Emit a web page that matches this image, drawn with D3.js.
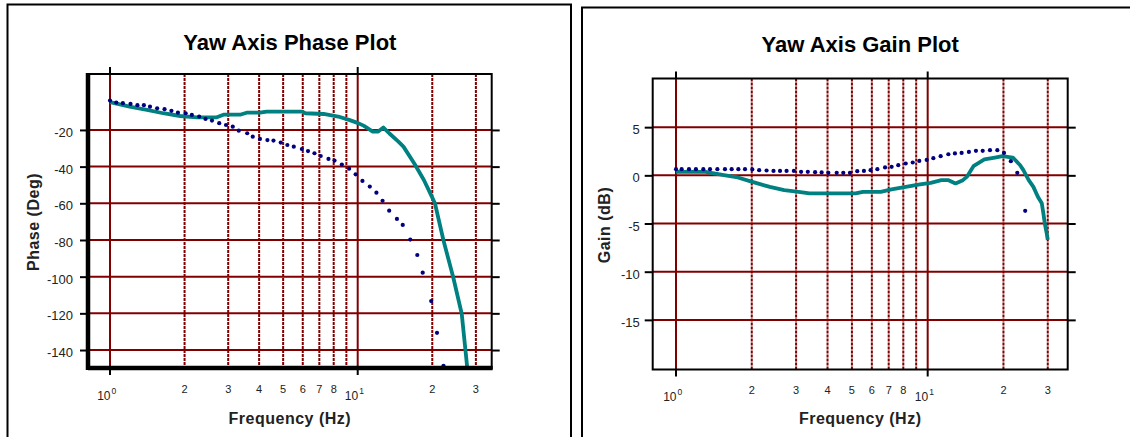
<!DOCTYPE html>
<html>
<head>
<meta charset="utf-8">
<script src="https://cdn.jsdelivr.net/npm/d3@7"></script>
<style>
  body { margin: 0; background: #fff; }
  svg { display: block; font-family: "Liberation Sans", Arial, sans-serif; }
</style>
</head>
<body>
<svg id="chart" width="1130" height="437"></svg>
<script>
// measured phase (dots) and model phase (line), Hz / deg
var phaseDotFreq = [1.0, 1.06, 1.127, 1.21, 1.29, 1.37, 1.45, 1.55, 1.66, 1.77, 1.88, 2.02, 2.14, 2.29, 2.43, 2.58, 2.76, 2.94, 3.13, 3.31,
  3.58, 3.77, 4.03, 4.32, 4.57, 4.89, 5.2, 5.52, 5.95, 6.3, 6.69, 7.09, 7.62, 8.06, 8.63, 9.23, 9.81, 10.45, 11.19, 11.9,
  12.6, 13.4, 14.4, 15.2, 16.3, 17.4, 18.3, 19.8, 20.9, 22.2];
var phaseDotDeg = [-4.0, -5.1, -5.4, -5.8, -6.5, -6.5, -7.3, -8.2, -8.7, -9.6, -10.6, -10.9, -11.8, -12.7, -14.0, -14.9, -16.3, -17.3, -18.2, -20.4,
  -21.8, -23.7, -24.9, -25.5, -25.8, -26.9, -28.2, -29.1, -30.4, -31.5, -32.7, -34.2, -35.8, -36.7, -38.9, -41.1, -44.2, -47.8, -50.9, -54.2,
  -58.6, -64.0, -68.5, -71.8, -79.8, -88.2, -97.8, -113.3, -130.6, -148.6];
var phaseLineFreq = [1.0, 1.2, 1.41, 1.64, 1.92, 2.24, 2.7, 2.87, 3.35, 3.56, 4.03, 4.29, 5.95, 6.15, 7.28, 8.34, 9.22, 10.05, 10.6, 11.5,
  12.1, 12.7, 13.4, 14.6, 15.3, 16.9, 18.5, 19.7, 20.5, 22.2, 24.3, 26.3, 27.7];
var phaseLineDeg = [-4.8, -7.3, -9.1, -10.9, -12.4, -13.1, -13.1, -11.7, -11.7, -10.6, -10.6, -10.0, -10.0, -10.9, -11.3, -12.7, -14.5, -16.3, -17.8, -20.9,
  -20.9, -18.7, -21.8, -26.4, -29.1, -38.2, -47.3, -55.0, -60.0, -80.3, -100.3, -120.2, -150.0];

// measured gain (dots) and model gain (line), Hz / dB
var gainDotFreq = [1.0, 1.053, 1.126, 1.2, 1.284, 1.365, 1.46, 1.565, 1.664, 1.769, 1.88, 2.01, 2.14, 2.29, 2.44, 2.59, 2.75, 2.94, 3.14, 3.34,
  3.57, 3.79, 4.03, 4.35, 4.62, 4.91, 5.25, 5.58, 5.93, 6.31, 6.77, 7.19, 7.64, 8.18, 8.72, 9.26, 9.91, 10.53, 11.26, 12.08,
  12.83, 13.64, 14.58, 15.55, 16.54, 17.68, 18.91, 20.1, 21.4, 22.7, 24.4];
var gainDotDb = [0.64, 0.64, 0.64, 0.64, 0.64, 0.64, 0.64, 0.64, 0.64, 0.64, 0.64, 0.61, 0.54, 0.5, 0.46, 0.46, 0.46, 0.46, 0.36, 0.36,
  0.33, 0.3, 0.26, 0.26, 0.26, 0.26, 0.43, 0.46, 0.54, 0.64, 0.82, 0.88, 1.05, 1.23, 1.33, 1.5, 1.6, 1.78, 1.99, 2.19,
  2.27, 2.33, 2.43, 2.54, 2.54, 2.61, 2.61, 2.33, 1.47, 0.26, -3.68];
var gainLineFreq = [1.0, 1.31, 1.55, 1.76, 2.01, 2.36, 2.69, 3.07, 3.39, 5.17, 5.53, 6.51, 7.18, 8.18, 9.32, 10.28, 11.34, 12.1, 12.9, 13.8,
  14.3, 15.2, 16.8, 18.5, 19.8, 21.8, 23.3, 24.0, 25.2, 26.3, 27.4, 28.4, 28.8, 29.2, 29.7, 30.0];
var gainLineDb = [0.36, 0.36, 0.02, -0.22, -0.68, -1.2, -1.54, -1.71, -1.88, -1.88, -1.71, -1.71, -1.46, -1.2, -0.95, -0.78, -0.5, -0.5, -0.84, -0.5,
  -0.16, 0.95, 1.65, 1.85, 1.99, 1.85, 1.05, 0.54, -0.5, -1.2, -2.23, -2.9, -3.9, -5.0, -6.0, -6.7];

var phaseTicks = [-20, -40, -60, -80, -100, -120, -140];
var gainTicks = [5, 0, -5, -10, -15];
var majorFreq = [1, 10];
var majorLabels = ["10", "10"];
var majorExp = ["0", "1"];
var minorFreq = [2, 3, 4, 5, 6, 7, 8, 9, 20, 30];
var minorLabels = ["2", "3", "4", "5", "6", "7", "8", "", "2", "3"];

var svg = d3.select("#chart");
var gridColor = "#800000";

// outer panel frames
svg.append("rect").attr("x", 7.5).attr("y", 4.5).attr("width", 563.5).attr("height", 460)
  .attr("fill", "none").attr("stroke", "#000").attr("stroke-width", 2);
svg.append("rect").attr("x", 582).attr("y", 7.5).attr("width", 600).attr("height", 460)
  .attr("fill", "none").attr("stroke", "#000").attr("stroke-width", 2);

function drawPlot(o) {
  var x = d3.scaleLog().domain(o.xDomain).range([o.left, o.right]);
  var y = d3.scaleLinear().domain(o.yDomain).range([o.bottom, o.top]);
  var g = svg.append("g");

  g.append("clipPath").attr("id", o.id + "-clip")
    .append("rect").attr("x", o.left).attr("y", o.top)
    .attr("width", o.right - o.left).attr("height", o.bottom - o.top);

  // minor frequency grid (dotted)
  g.selectAll(".minor").data(minorFreq).enter().append("line")
    .attr("x1", function (d) { return x(d); }).attr("x2", function (d) { return x(d); })
    .attr("y1", o.top).attr("y2", o.bottom)
    .attr("stroke", gridColor).attr("stroke-width", 2)
    .attr("stroke-dasharray", "3,1");

  // decade grid
  g.selectAll(".major").data(majorFreq).enter().append("line")
    .attr("x1", function (d) { return x(d); }).attr("x2", function (d) { return x(d); })
    .attr("y1", o.top).attr("y2", o.bottom)
    .attr("stroke", gridColor).attr("stroke-width", 2);

  // horizontal grid
  g.selectAll(".hgrid").data(o.yTicks).enter().append("line")
    .attr("x1", o.left).attr("x2", o.right)
    .attr("y1", function (d) { return y(d); }).attr("y2", function (d) { return y(d); })
    .attr("stroke", gridColor).attr("stroke-width", 2);

  var plot = g.append("g").attr("clip-path", "url(#" + o.id + "-clip)");

  var line = d3.line()
    .x(function (d) { return x(d[0]); })
    .y(function (d) { return y(d[1]); });

  plot.append("path")
    .datum(d3.zip(o.lineFreq, o.lineVal))
    .attr("d", line)
    .attr("fill", "none")
    .attr("stroke", "#008080")
    .attr("stroke-width", 3.8)
    .attr("stroke-linejoin", "round");

  plot.selectAll(".dot").data(d3.zip(o.dotFreq, o.dotVal)).enter().append("circle")
    .attr("cx", function (d) { return x(d[0]); })
    .attr("cy", function (d) { return y(d[1]); })
    .attr("r", 2.1)
    .attr("fill", "#000080");

  // frame
  g.append("rect").attr("x", o.left).attr("y", o.top)
    .attr("width", o.right - o.left).attr("height", o.bottom - o.top)
    .attr("fill", "none").attr("stroke", "#000").attr("stroke-width", 2);
  if (o.thick) {
    g.append("line").attr("x1", o.left).attr("x2", o.left).attr("y1", o.top - 1).attr("y2", o.bottom + 2)
      .attr("stroke", "#000").attr("stroke-width", 4.5);
    g.append("line").attr("x1", o.left).attr("x2", o.right + 1).attr("y1", o.bottom).attr("y2", o.bottom)
      .attr("stroke", "#000").attr("stroke-width", 4.5);
  }

  // y axis ticks and labels (plain hyphen minus, as in the original)
  var yAxis = d3.axisLeft(y).tickValues(o.yTicks).tickSize(8).tickPadding(o.pad)
    .tickFormat(function (d) { return String(d); });
  var ya = g.append("g").attr("transform", "translate(" + o.left + ",0)").call(yAxis);
  ya.select(".domain").remove();
  ya.selectAll("line").attr("stroke", "#000").attr("stroke-width", 2);
  ya.selectAll("text").attr("font-size", 13).attr("fill", "#222").attr("dy", "0.5em")
    .attr("font-family", "'Liberation Sans', Arial, sans-serif");

  var yr = g.append("g").attr("transform", "translate(" + o.right + ",0)")
    .call(d3.axisRight(y).tickValues(o.yTicks).tickSize(8).tickFormat(""));
  yr.select(".domain").remove();
  yr.selectAll("line").attr("stroke", "#000").attr("stroke-width", 2);

  // decade ticks top and bottom
  majorFreq.forEach(function (f) {
    g.append("line").attr("x1", x(f)).attr("x2", x(f)).attr("y1", o.top - 7).attr("y2", o.top)
      .attr("stroke", "#000").attr("stroke-width", 2);
    g.append("line").attr("x1", x(f)).attr("x2", x(f)).attr("y1", o.bottom).attr("y2", o.bottom + 7)
      .attr("stroke", "#000").attr("stroke-width", 2);
  });

  // x labels
  g.selectAll(".minlab").data(d3.zip(minorFreq, minorLabels)).enter().append("text")
    .attr("x", function (d) { return x(d[0]); })
    .attr("y", o.bottom + 24.5)
    .attr("text-anchor", "middle")
    .attr("font-size", 11)
    .attr("fill", "#222")
    .text(function (d) { return d[1]; });

  majorFreq.forEach(function (f, i) {
    g.append("text").attr("x", x(f) + 0.5).attr("y", o.bottom + 31.5)
      .attr("text-anchor", "end").attr("font-size", 12).attr("fill", "#222")
      .text(majorLabels[i]);
    g.append("text").attr("x", x(f) + 1.5).attr("y", o.bottom + 25.5)
      .attr("text-anchor", "start").attr("font-size", 8.5).attr("fill", "#222")
      .text(majorExp[i]);
  });

  // titles
  g.append("text").attr("x", (o.left + o.right) / 2).attr("y", o.titleY)
    .attr("text-anchor", "middle").attr("font-size", 22).attr("font-weight", "bold")
    .text(o.title);
  g.append("text").attr("x", (o.left + o.right) / 2).attr("y", 424)
    .attr("text-anchor", "middle").attr("font-size", 16).attr("font-weight", "bold")
    .attr("fill", "#222").attr("letter-spacing", 0.5)
    .text("Frequency (Hz)");
  g.append("text")
    .attr("transform", "translate(" + o.yTitleX + "," + o.yTitleY + ") rotate(-90)")
    .attr("text-anchor", "middle").attr("dominant-baseline", "central")
    .attr("font-size", 16).attr("font-weight", "bold").attr("fill", "#222")
    .attr("letter-spacing", 0.5)
    .text(o.yTitle);
}

drawPlot({
  id: "phase", left: 88, right: 491.7, top: 74, bottom: 368,
  xDomain: [0.815, 34.75], yDomain: [-149.8, 10.5], yTicks: phaseTicks, pad: 7,
  dotFreq: phaseDotFreq, dotVal: phaseDotDeg, lineFreq: phaseLineFreq, lineVal: phaseLineDeg,
  thick: true, title: "Yaw Axis Phase Plot", titleY: 50,
  yTitle: "Phase (Deg)", yTitleX: 33, yTitleY: 222
});

drawPlot({
  id: "gain", left: 652.7, right: 1067.7, top: 78.5, bottom: 369.5,
  xDomain: [0.808, 36], yDomain: [-20.15, 10.05], yTicks: gainTicks, pad: 5,
  dotFreq: gainDotFreq, dotVal: gainDotDb, lineFreq: gainLineFreq, lineVal: gainLineDb,
  thick: false, title: "Yaw Axis Gain Plot", titleY: 52,
  yTitle: "Gain (dB)", yTitleX: 604, yTitleY: 225
});
</script>
</body>
</html>
